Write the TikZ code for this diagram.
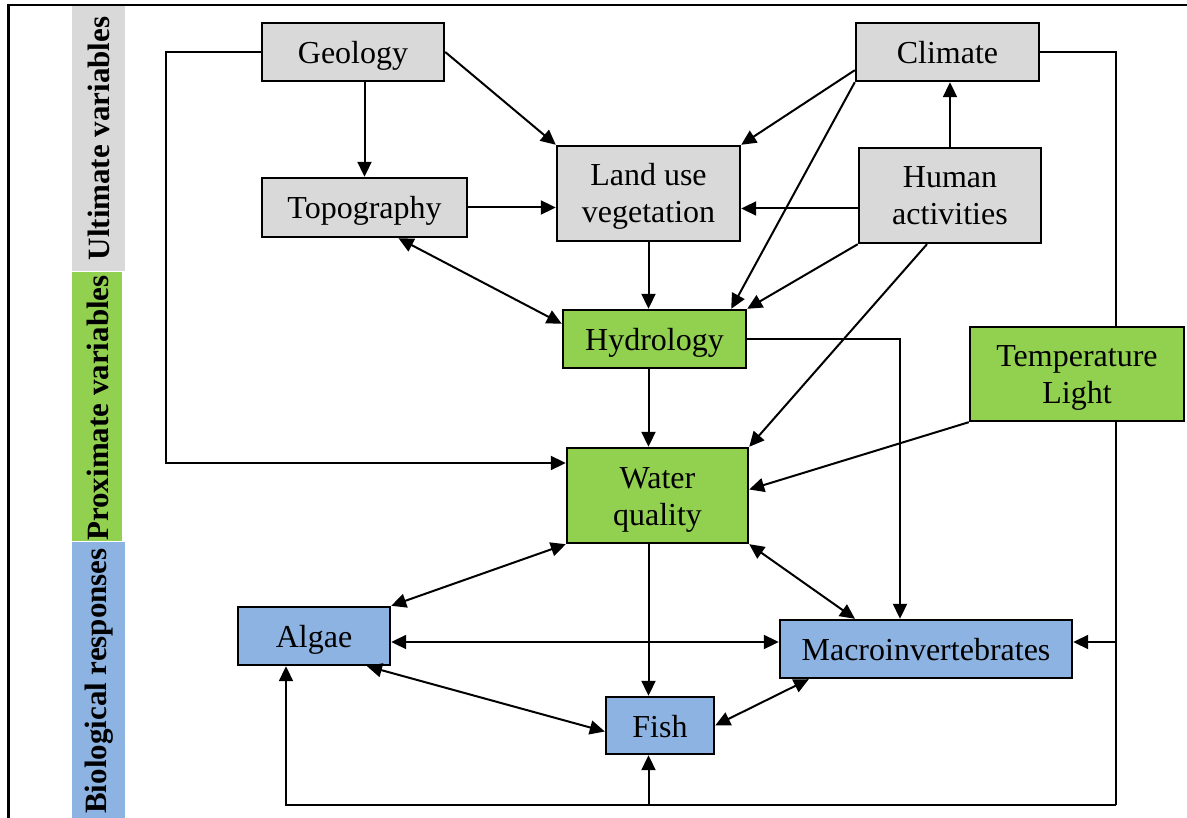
\documentclass[tikz,border=0pt]{standalone}
\usepackage{fontspec}
\setmainfont{Liberation Serif}
\usetikzlibrary{arrows.meta,calc}
\definecolor{boxgray}{HTML}{D9D9D9}
\definecolor{boxgreen}{HTML}{92D050}
\definecolor{boxblue}{HTML}{8DB3E2}
% #1: distance of first baseline below the box centre
\newcommand{\boxlbl}[2]{\raisebox{-#1}[0pt][0pt]{\begin{tabular}[t]{@{}c@{}}#2\end{tabular}}}
\begin{document}
\begin{tikzpicture}[x=1pt,y=-1pt,
 box/.style={draw, line width=2.4pt, inner sep=0pt, font=\fontsize{32}{37}\selectfont},
 gbox/.style={box, fill=boxgray},
 grbox/.style={box, fill=boxgreen},
 bbox/.style={box, fill=boxblue},
 arr/.style={line width=2pt, -{Triangle[length=15pt,width=14pt]}},
 darr/.style={line width=2pt, {Triangle[length=15pt,width=14pt]}-{Triangle[length=15pt,width=14pt]}},
 plain/.style={line width=2pt},
 band/.style={inner sep=0pt, font=\bfseries\fontsize{31}{36}\selectfont, rotate=90}
]
\useasboundingbox (0,0) rectangle (1187,818);
% frame
\draw[line width=2.8pt] (8.5,818) -- (8.5,5) -- (1187,5);
% side bands
\fill[boxgray] (72,6.5) rectangle (125,271);
\fill[boxgreen] (72,272) rectangle (122,541);
\fill[boxblue] (72,542) rectangle (125,818);
\node[band] (ult) at (99,138.5) {Ultimate variables};
\node[band] (prox) at (97.5,408) {Proximate variables};
\node[band] (bio) at (99,681) {Biological responses};
% boxes
\node[gbox, minimum width=182pt, minimum height=58pt] (geo) at (353,52) {\boxlbl{11.5pt}{Geology}};
\node[gbox, minimum width=205pt, minimum height=59pt] (topo) at (364.5,207.5) {\boxlbl{11.5pt}{Topography}};
\node[gbox, minimum width=183pt, minimum height=95pt] (land) at (648.5,193.5) {\boxlbl{-7.5pt}{Land use\\vegetation}};
\node[gbox, minimum width=183pt, minimum height=58pt] (clim) at (947.5,52) {\boxlbl{11.5pt}{Climate}};
\node[gbox, minimum width=182pt, minimum height=95pt] (human) at (950,195.5) {\boxlbl{-7.5pt}{Human\\activities}};
\node[grbox, minimum width=183pt, minimum height=58pt] (hydro) at (654.5,339) {\boxlbl{11.5pt}{Hydrology}};
\node[grbox, minimum width=181pt, minimum height=95pt] (wq) at (657.5,495.5) {\boxlbl{-7.5pt}{Water\\quality}};
\node[bbox, minimum width=152pt, minimum height=58pt] (algae) at (314,636) {\boxlbl{11.5pt}{Algae}};
\node[bbox, minimum width=292pt, minimum height=58pt] (macro) at (926,649) {\boxlbl{11.5pt}{Macroinvertebrates}};
\node[bbox, minimum width=108pt, minimum height=57pt] (fish) at (660,725.5) {\boxlbl{11.5pt}{Fish}};
% climate loop on the right
\coordinate (cr) at ($(clim.east)+(76,0)$);
\coordinate (br) at ($(cr)+(0,753)$);
\coordinate (bl) at ($(algae.south)+(-28,0)$);
\coordinate (m1) at ($(macro.east)+(0,-7)$);
\draw[plain] (clim.east) -- (cr) -- (br);
\draw[arr] (br) -| (bl);
\draw[arr] (cr |- m1) -- (m1);
\draw[arr] (br -| land.south) -- (fish.south -| land.south);
% temperature box drawn over the loop
\node[grbox, minimum width=214pt, minimum height=94pt] (temp) at (1077,374) {\boxlbl{-7.5pt}{Temperature\\Light}};
% connectors
\draw[arr] (geo.south -| topo.north) -- (topo.north);
\draw[arr] (geo.east) -- (land.north west);
\draw[arr] (topo.east) -- (topo.east -| land.west);
\draw[darr] ($(topo.south)+(34,0)$) -- ($(hydro.north west)+(0,15)$);
\draw[arr] (land.south) -- (land.south |- hydro.north);
\draw[arr] ($(clim.south west)+(0,-12)$) -- (land.north east);
\draw[arr] (clim.south west) -- ($(hydro.north east)+(-16,0)$);
\draw[arr] (human.north) -- (human.north |- clim.south);
\coordinate (h1) at ($(human.west)+(0,13)$);
\draw[arr] (h1) -- (h1 -| land.east);
\draw[arr] (human.south west) -- (hydro.north east);
\draw[arr] ($(human.south)+(-23,0)$) -- (wq.north east);
\draw[arr] (hydro.east) -| ($(macro.north)+(-26,0)$);
\coordinate (g1) at ($(geo.west)+(-95.3,0)$);
\draw[arr] (geo.west) -- (g1) |- ($(wq.west)+(0,-32.5)$);
\draw[arr] (hydro.south -| land.south) -- (wq.north -| land.south);
\draw[arr] (temp.south west) -- ($(wq.east)+(0,-6)$);
\draw[darr] (algae.north east) -- (wq.south west);
\draw[darr] (wq.south east) -- ($(macro.north)+(-71,0)$);
\draw[arr] (wq.south -| land.south) -- (fish.north -| land.south);
\coordinate (a1) at ($(algae.east)+(0,6)$);
\draw[darr] (a1) -- (a1 -| macro.west);
\draw[darr] ($(algae.south)+(53,0)$) -- ($(fish.west)+(0,6)$);
\draw[darr] (fish.east) -- ($(macro.south west)+(30,0)$);
\end{tikzpicture}
\end{document}
